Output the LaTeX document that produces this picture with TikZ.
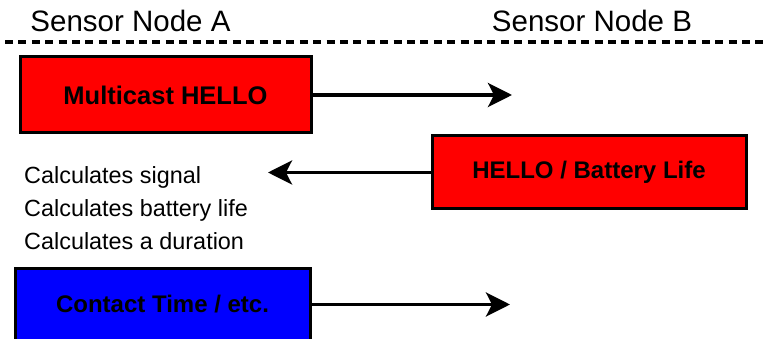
\documentclass[tikz,border=0pt]{standalone}
\usepackage{fontspec}
\setmainfont{Liberation Sans}
\usetikzlibrary{arrows.meta}

\tikzset{
  msgbox/.style={draw=black, line width=3pt, inner sep=0pt, font=\fontsize{24}{28}\selectfont\bfseries},
  msg/.style={line width=3.5pt, -{Stealth[length=24pt, width=24pt, inset=6pt]}},
  title/.style={anchor=base, inner sep=0pt, font=\fontsize{29.5}{34}\selectfont},
  note/.style={anchor=base west, inner sep=0pt, font=\fontsize{23.4}{28}\selectfont},
}

\begin{document}
\begin{tikzpicture}[x=1pt, y=-1pt]
  \useasboundingbox (0,0) rectangle (766,339);
  \clip (0,0) rectangle (766,339);

  % node headings and separator
  \node[title] (hA) at (130.5,31.5) {Sensor Node A};
  \node[title] (hB) at (592,31.5) {Sensor Node B};
  \draw[line width=3.5pt, dash pattern=on 8pt off 5.4pt] (5,42) -- (766,42);

  % message boxes
  \node[msgbox, fill=red, minimum width=291pt, minimum height=76pt, font=\fontsize{25.5}{30}\selectfont\bfseries]
    (m1) at (165.5,95) {Multicast HELLO};
  \node[msgbox, fill=red, minimum width=314pt, minimum height=73pt]
    (m2) at (589,172.5) {HELLO / Battery Life};
  \node[msgbox, fill=blue, minimum width=295pt, minimum height=71pt]
    (m3) at (162.5,304.5) {Contact Time / etc.};

  % processing steps at node A
  \node[note] (c1) at (24,184) {Calculates signal};
  \node[note] (c2) at (24,216.7) {Calculates battery life};
  \node[note] (c3) at (24,249.3) {Calculates a duration};

  % arrow end points
  \coordinate (t1) at (512,95);
  \coordinate (t2) at (268,172.5);
  \coordinate (t3) at (510,304.5);

  \draw[msg] (m1) -- (t1);
  \draw[msg] (m2) -- (t2);
  \draw[msg] (m3) -- (t3);
\end{tikzpicture}
\end{document}
